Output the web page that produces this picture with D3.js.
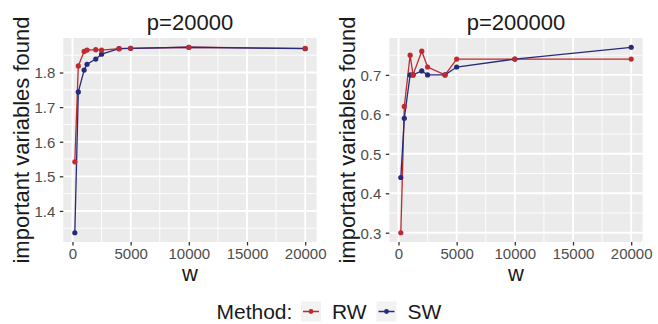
<!DOCTYPE html>
<html>
<head>
<meta charset="utf-8">
<script src="https://cdn.jsdelivr.net/npm/d3@7"></script>
<style>
  html, body { margin: 0; padding: 0; background: #ffffff; }
  svg { display: block; font-family: "Liberation Sans", Arial, sans-serif; }
</style>
</head>
<body>
<svg id="chart" width="658" height="324"></svg>
<script>
// Window sizes tried
const wValues = [200, 500, 1000, 1250, 2000, 2500, 4000, 5000, 10000, 20000];

// Mean number of important variables found, p = 20000
const rwP20000 = [1.542, 1.819, 1.861, 1.865, 1.866, 1.865, 1.869, 1.870, 1.873, 1.870];
const swP20000 = [1.337, 1.744, 1.807, 1.824, 1.839, 1.853, 1.869, 1.870, 1.873, 1.869];

// Mean number of important variables found, p = 200000
const rwP200000 = [0.30, 0.62, 0.75, 0.70, 0.76, 0.72, 0.70, 0.74, 0.74, 0.74];
const swP200000 = [0.44, 0.59, 0.70, 0.70, 0.71, 0.70, 0.70, 0.72, 0.74, 0.77];

const methods = ["RW", "SW"];
const methodColors = { RW: "#BF2A2F", SW: "#262A78" };

const xTicks = [0, 5000, 10000, 15000, 20000];
const xMinor = [2500, 7500, 12500, 17500];
const yTicksP20000 = [1.4, 1.5, 1.6, 1.7, 1.8];
const yMinorP20000 = [1.35, 1.45, 1.55, 1.65, 1.75, 1.85];
const yTicksP200000 = [0.3, 0.4, 0.5, 0.6, 0.7];
const yMinorP200000 = [0.35, 0.45, 0.55, 0.65, 0.75];

const svg = d3.select("#chart");

// ggplot-style 5% expansion of the data range
function expanded(values) {
  const [lo, hi] = d3.extent(values);
  const pad = (hi - lo) * 0.05;
  return [lo - pad, hi + pad];
}

function drawPanel(opts) {
  const { left, right, top, bottom, title, series, yTicks, yMinor } = opts;
  const g = svg.append("g");

  const x = d3.scaleLinear().domain(expanded(wValues)).range([left, right]);
  const allY = series.RW.concat(series.SW);
  const y = d3.scaleLinear().domain(expanded(allY)).range([bottom, top]);

  // panel background
  g.append("rect")
    .attr("x", left).attr("y", top)
    .attr("width", right - left).attr("height", bottom - top)
    .attr("fill", "#EBEBEB");

  // minor grid
  g.selectAll(".xminor").data(xMinor).join("line")
    .attr("x1", d => x(d)).attr("x2", d => x(d))
    .attr("y1", top).attr("y2", bottom)
    .attr("stroke", "#ffffff").attr("stroke-width", 0.9);
  g.selectAll(".yminor").data(yMinor).join("line")
    .attr("x1", left).attr("x2", right)
    .attr("y1", d => y(d)).attr("y2", d => y(d))
    .attr("stroke", "#ffffff").attr("stroke-width", 0.9);

  // major grid
  g.selectAll(".xmajor").data(xTicks).join("line")
    .attr("x1", d => x(d)).attr("x2", d => x(d))
    .attr("y1", top).attr("y2", bottom)
    .attr("stroke", "#ffffff").attr("stroke-width", 1.9);
  g.selectAll(".ymajor").data(yTicks).join("line")
    .attr("x1", left).attr("x2", right)
    .attr("y1", d => y(d)).attr("y2", d => y(d))
    .attr("stroke", "#ffffff").attr("stroke-width", 1.9);

  // axes
  const xAxis = g.append("g")
    .attr("transform", `translate(0,${bottom})`)
    .call(d3.axisBottom(x).tickValues(xTicks).tickFormat(d3.format("d"))
      .tickSizeInner(3.5).tickSizeOuter(0).tickPadding(3));
  const yAxis = g.append("g")
    .attr("transform", `translate(${left},0)`)
    .call(d3.axisLeft(y).tickValues(yTicks).tickFormat(d3.format(".1f"))
      .tickSizeInner(3.5).tickSizeOuter(0).tickPadding(4.5));
  [xAxis, yAxis].forEach(a => {
    a.select(".domain").remove();
    a.selectAll(".tick line").attr("stroke", "#333333").attr("stroke-width", 1.3);
    a.selectAll(".tick text")
      .attr("fill", "#4D4D4D")
      .style("font-size", "15px")
      .style("font-family", "\"Liberation Sans\", Arial, sans-serif");
  });
  xAxis.selectAll(".tick text").attr("dy", "0.71em");
  yAxis.selectAll(".tick text").attr("dy", "0.36em");

  // lines
  const line = d3.line().x(d => x(d.w)).y(d => y(d.v));
  methods.forEach(m => {
    const pts = wValues.map((w, i) => ({ w, v: series[m][i] }));
    g.append("path")
      .datum(pts)
      .attr("d", line)
      .attr("fill", "none")
      .attr("stroke", methodColors[m])
      .attr("stroke-width", 1.3);
  });
  // points
  ["SW", "RW"].forEach(m => {
    const pts = wValues.map((w, i) => ({ w, v: series[m][i] }));
    g.selectAll(`.pt-${m}`).data(pts).join("circle")
      .attr("cx", d => x(d.w)).attr("cy", d => y(d.v))
      .attr("r", 2.6)
      .attr("fill", methodColors[m]);
  });

  // title
  g.append("text")
    .attr("x", (left + right) / 2).attr("y", 29.5)
    .attr("text-anchor", "middle")
    .attr("fill", "#1A1A1A")
    .style("font-size", "22px")
    .text(title);

  // axis titles
  g.append("text")
    .attr("x", (left + right) / 2).attr("y", 280.5)
    .attr("text-anchor", "middle")
    .attr("fill", "#1A1A1A")
    .style("font-size", "22px")
    .text("w");
  g.append("text")
    .attr("transform", `translate(${left - 34.5},${(top + bottom) / 2}) rotate(-90)`)
    .attr("text-anchor", "middle")
    .attr("fill", "#1A1A1A")
    .style("font-size", "22px")
    .text("important variables found");
}

drawPanel({
  left: 63.3, right: 316.7, top: 38, bottom: 242,
  title: "p=20000",
  series: { RW: rwP20000, SW: swP20000 },
  yTicks: yTicksP20000, yMinor: yMinorP20000
});
drawPanel({
  left: 389.3, right: 642.7, top: 38, bottom: 242,
  title: "p=200000",
  series: { RW: rwP200000, SW: swP200000 },
  yTicks: yTicksP200000, yMinor: yMinorP200000
});

// legend
const legend = svg.append("g");
legend.append("text")
  .attr("x", 216.5).attr("y", 319)
  .attr("fill", "#1A1A1A")
  .style("font-size", "21px")
  .text("Method:");
const keyX = { RW: 301, SW: 376.5 };
methods.forEach(m => {
  const kx = keyX[m];
  legend.append("rect")
    .attr("x", kx).attr("y", 301.5)
    .attr("width", 20).attr("height", 20)
    .attr("fill", "#F2F2F2");
  legend.append("line")
    .attr("x1", kx + 2).attr("x2", kx + 18)
    .attr("y1", 311.5).attr("y2", 311.5)
    .attr("stroke", methodColors[m]).attr("stroke-width", 1.5);
  legend.append("circle")
    .attr("cx", kx + 10).attr("cy", 311.5).attr("r", 2.4)
    .attr("fill", methodColors[m]);
  legend.append("text")
    .attr("x", kx + 31).attr("y", 319)
    .attr("fill", "#1A1A1A")
    .style("font-size", "21px")
    .text(m);
});
</script>
</body>
</html>
